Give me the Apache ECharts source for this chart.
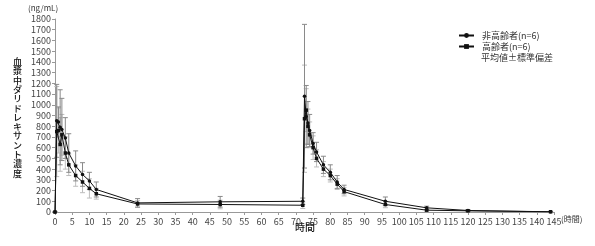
<!DOCTYPE html>
<html>
<head>
<meta charset="utf-8">
<script src="https://cdn.jsdelivr.net/npm/echarts@6/dist/echarts.min.js"></script>
<style>
  html, body { margin: 0; padding: 0; background: #fff; }
  #chart { width: 595px; height: 246px; }
</style>
</head>
<body>
<div id="chart"></div>
<script>
// sampling times (h)
const times = [0, 0.5, 1, 1.5, 2, 3, 4, 6, 8, 10, 12, 24, 48, 72, 72.5, 73, 73.5, 74, 75, 76, 78, 80, 82, 84, 96, 108, 120, 144];
// 非高齢者 mean / SD
const youngMean = [0, 850, 840, 790, 770, 690, 550, 430, 350, 290, 210, 85, 95, 100, 1080, 890, 830, 760, 640, 560, 440, 370, 280, 210, 100, 39, 14, 2];
const youngSD = [0, 340, 140, 350, 290, 190, 180, 140, 110, 80, 70, 40, 50, 30, 670, 290, 200, 150, 100, 90, 80, 70, 60, 40, 40, 15, 8, 2];
// 高齢者 mean / SD
const elderMean = [0, 750, 760, 630, 720, 550, 440, 340, 280, 220, 170, 75, 70, 63, 870, 950, 800, 720, 600, 500, 400, 340, 260, 190, 70, 17, 11, 2];
const elderSD = [0, 420, 210, 250, 190, 150, 100, 100, 100, 90, 50, 30, 40, 30, 500, 200, 160, 120, 110, 80, 70, 60, 50, 40, 30, 10, 6, 2];

const seriesNames = ['非高齢者(n=6)', '高齢者(n=6)'];
const fontJP = '"Noto Sans CJK JP", "Noto Sans", sans-serif';

function pairs(m) { return times.map((t, i) => [t, m[i]]); }
function errData(m, sd) { return times.map((t, i) => [t, m[i] - sd[i], m[i] + sd[i]]); }

function errSeries(m, sd, color) {
  return {
    type: 'custom',
    data: errData(m, sd),
    z: 1,
    silent: true,
    renderItem: function (params, api) {
      const x = api.value(0);
      const lo = api.coord([x, Math.max(0, api.value(1))]);
      const hi = api.coord([x, api.value(2)]);
      const w = 2.5;
      const st = { stroke: color, lineWidth: 1 };
      return {
        type: 'group',
        children: [
          { type: 'line', shape: { x1: lo[0], y1: lo[1], x2: hi[0], y2: hi[1] }, style: st },
          { type: 'line', shape: { x1: hi[0] - w, y1: hi[1], x2: hi[0] + w, y2: hi[1] }, style: st },
          { type: 'line', shape: { x1: lo[0] - w, y1: lo[1], x2: lo[0] + w, y2: lo[1] }, style: st }
        ]
      };
    }
  };
}

const chart = echarts.init(document.getElementById('chart'));
chart.setOption({
  animation: false,
  textStyle: { fontFamily: fontJP },
  grid: { left: 55, right: 41, top: 19, bottom: 34 },
  legend: {
    data: seriesNames,
    orient: 'vertical',
    left: 458,
    top: 30,
    padding: 0,
    itemGap: 0,
    itemWidth: 15,
    itemHeight: 6,
    textStyle: { fontSize: 9, lineHeight: 11, color: '#333', fontFamily: fontJP, padding: [0, 0, 0, 3] }
  },
  xAxis: {
    type: 'value',
    min: 0, max: 145, interval: 5,
    axisLine: { lineStyle: { color: '#999' } },
    axisTick: { lineStyle: { color: '#999' }, length: 3 },
    axisLabel: { fontSize: 9, color: '#444', margin: 5 },
    splitLine: { show: false }
  },
  yAxis: {
    type: 'value',
    min: 0, max: 1800, interval: 100,
    axisLine: { show: true, lineStyle: { color: '#999' } },
    axisTick: { show: true, lineStyle: { color: '#999' }, length: 3 },
    axisLabel: { fontSize: 9, color: '#444', margin: 4, formatter: v => String(v) },
    splitLine: { show: false }
  },
  graphic: [
    { type: 'text', left: 28, top: 4, style: { text: '(ng/mL)', fontSize: 8, fill: '#333', fontFamily: fontJP } },
    { type: 'text', left: 13, top: 57, style: { text: '血漿中ダリドレキサント濃度'.split('').join('\n'), fontSize: 9, lineHeight: 9.3, fontWeight: 500, fill: '#111', fontFamily: fontJP } },
    { type: 'text', left: 295, top: 222, style: { text: '時間', fontSize: 10, fontWeight: 500, fill: '#111', fontFamily: fontJP } },
    { type: 'text', left: 561, top: 215, style: { text: '(時間)', fontSize: 8, fill: '#333', fontFamily: fontJP } },
    { type: 'text', left: 481, top: 53, style: { text: '平均値±標準偏差', fontSize: 9, fill: '#333', fontFamily: fontJP } }
  ],
  series: [
    errSeries(elderMean, elderSD, '#bdbdbd'),
    errSeries(youngMean, youngSD, '#8a8a8a'),
    {
      name: seriesNames[0],
      type: 'line',
      data: pairs(youngMean),
      symbol: 'circle',
      symbolSize: 3.5,
      z: 3,
      lineStyle: { color: '#111', width: 1 },
      itemStyle: { color: '#111' }
    },
    {
      name: seriesNames[1],
      type: 'line',
      data: pairs(elderMean),
      symbol: 'rect',
      symbolSize: 3.5,
      z: 3,
      lineStyle: { color: '#111', width: 1 },
      itemStyle: { color: '#111' }
    }
  ]
});
</script>
</body>
</html>
